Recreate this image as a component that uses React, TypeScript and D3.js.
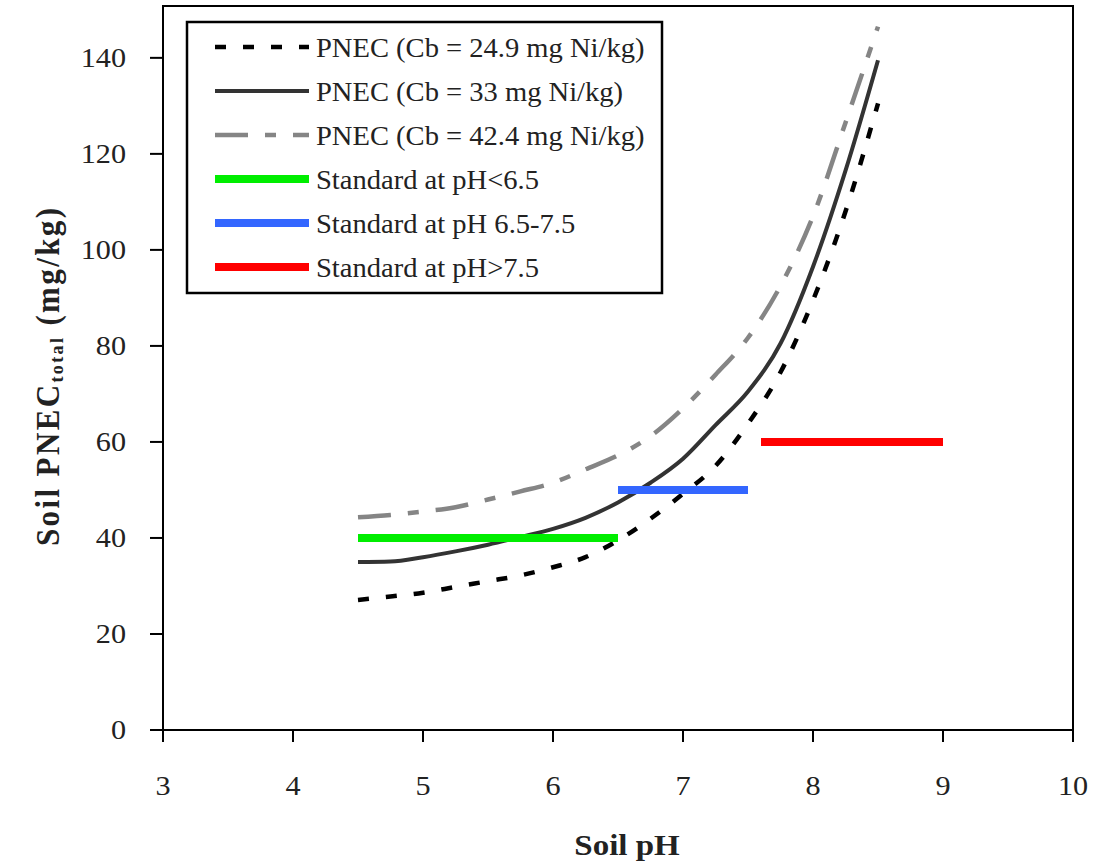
import React from "react";
import * as d3 from "d3";

const phValues = [4.5, 4.75, 5.0, 5.25, 5.5, 5.75, 6.0, 6.25, 6.5, 6.75, 7.0, 7.25, 7.5, 7.75, 8.0, 8.25, 8.5];
const pnecCb249 = [27.1, 27.8, 28.6, 29.8, 31.0, 32.2, 33.9, 36.0, 39.5, 44.0, 49.2, 55.0, 63.8, 74.5, 89.5, 108.0, 130.5];
const pnecCb33 = [35.0, 35.1, 36.0, 37.2, 38.6, 40.2, 41.9, 44.2, 47.4, 51.5, 56.5, 63.5, 70.5, 80.5, 96.5, 116.5, 139.5];
const pnecCb424 = [44.3, 44.8, 45.5, 46.4, 48.0, 49.7, 51.5, 54.3, 57.2, 61.2, 67.0, 74.0, 81.7, 92.5, 107.0, 126.5, 146.5];

const standardLabels = ["Standard at pH<6.5", "Standard at pH 6.5-7.5", "Standard at pH>7.5"];
const standardStart = [4.5, 6.5, 7.6];
const standardEnd = [6.5, 7.5, 9.0];
const standardValue = [40, 50, 60];

const seriesLabels = ["PNEC (Cb = 24.9 mg Ni/kg)", "PNEC (Cb = 33 mg Ni/kg)", "PNEC (Cb = 42.4 mg Ni/kg)"];

const xTicks = [3, 4, 5, 6, 7, 8, 9, 10];
const yTicks = [0, 20, 40, 60, 80, 100, 120, 140];

const SX = 1.12;
const FONT = "'Liberation Serif', 'Times New Roman', serif";

export default function App() {
  const left = 163, right = 1073, top = 6, bottom = 730;
  const x = d3.scaleLinear().domain([3, 10]).range([left, right]);
  const y = d3.scaleLinear().domain([0, 150.8]).range([bottom, top]);
  const line = d3.line<[number, number]>().x(d => x(d[0])).y(d => y(d[1])).curve(d3.curveMonotoneX);

  const seriesData = [pnecCb249, pnecCb33, pnecCb424];
  const seriesStyle = [
    { stroke: "#000", width: 4.5, dash: "11,17" },
    { stroke: "#333", width: 4, dash: "" },
    { stroke: "#858585", width: 4.5, dash: "33,17,11,17" },
  ];
  const stdColors = ["#00ee00", "#3366ff", "#ff0000"];

  const legendRows = [47, 91, 135, 179, 223, 267];
  const legendItems = [
    ...seriesLabels.map((l, i) => ({ label: l, ...seriesStyle[i] })),
    ...standardLabels.map((l, i) => ({ label: l, stroke: stdColors[i], width: 8, dash: "" })),
  ];

  return (
    <svg width={1100} height={864} style={{ position: "absolute", left: 0, top: 0, background: "#fff" }} fontFamily={FONT}>
      <rect x={0} y={0} width={1100} height={864} fill="#fff" />
      <rect x={left} y={top} width={right - left} height={bottom - top} fill="none" stroke="#000" strokeWidth={2} />
      {seriesData.map((vals, i) => (
        <path key={i} d={line(phValues.map((p, j) => [p, vals[j]] as [number, number])) || ""}
          fill="none" stroke={seriesStyle[i].stroke} strokeWidth={seriesStyle[i].width}
          strokeDasharray={seriesStyle[i].dash || undefined} />
      ))}
      {standardValue.map((v, i) => (
        <line key={i} x1={x(standardStart[i])} x2={x(standardEnd[i])} y1={y(v)} y2={y(v)} stroke={stdColors[i]} strokeWidth={8} />
      ))}
      {yTicks.map(t => (
        <g key={t}>
          <line x1={left - 13} x2={left} y1={y(t)} y2={y(t)} stroke="#000" strokeWidth={2} />
          <text transform={`translate(${left - 37},${y(t) + 9}) scale(${SX},1)`} textAnchor="end" fontSize={27} fill="#222">{t}</text>
        </g>
      ))}
      {xTicks.map(t => (
        <g key={t}>
          <line x1={x(t)} x2={x(t)} y1={bottom} y2={bottom + 12} stroke="#000" strokeWidth={2} />
          <text transform={`translate(${x(t)},${bottom + 65}) scale(${SX},1)`} textAnchor="middle" fontSize={27} fill="#222">{t}</text>
        </g>
      ))}
      <text transform={`translate(627,855) scale(1.1,1)`} textAnchor="middle" fontSize={30} fontWeight="bold" fill="#222">Soil pH</text>
      <text transform={`translate(59,377) rotate(-90) scale(1,1.08)`} textAnchor="middle" fontSize={31} fontWeight="bold" fill="#222"
        textLength={338} lengthAdjust="spacing">
        Soil PNEC<tspan fontSize={18} dy={4}>total</tspan><tspan dy={-4}> (mg/kg)</tspan>
      </text>
      <rect x={187} y={22} width={475} height={271} fill="#fff" stroke="#000" strokeWidth={2.5} />
      {legendItems.map((it, i) => (
        <g key={i}>
          <line x1={215} x2={309} y1={legendRows[i]} y2={legendRows[i]} stroke={it.stroke} strokeWidth={it.width}
            strokeDasharray={it.dash || undefined} />
          <text transform={`translate(316,${legendRows[i] + 10}) scale(1.02,1)`} fontSize={28} fill="#222">{it.label}</text>
        </g>
      ))}
    </svg>
  );
}
